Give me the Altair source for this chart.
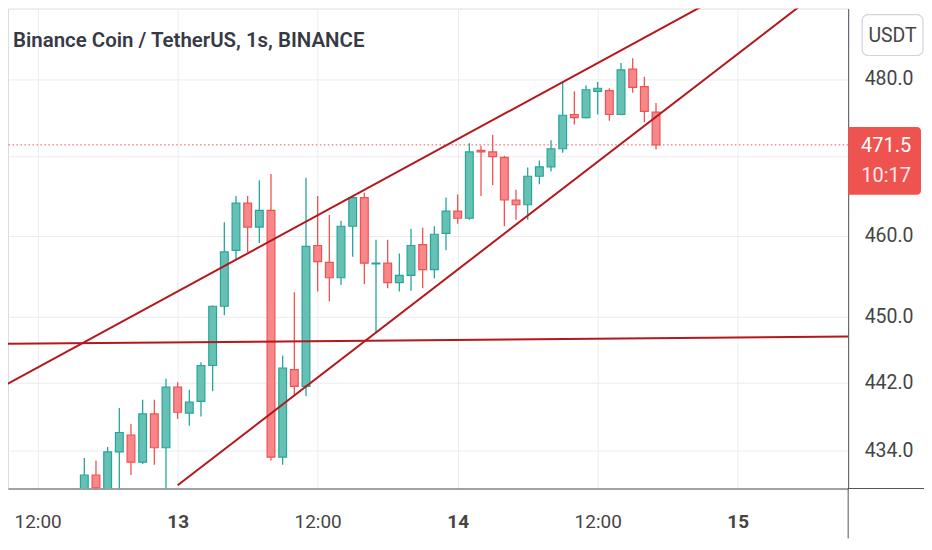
import altair as alt
import pandas as pd

TITLE = "Binance Coin / TetherUS, 1s, BINANCE"
CURRENCY = "USDT"
COUNTDOWN = "10:17"

# hours relative to day 13, 00:00
hours = list(range(-8, 42))
opens = [429.0, 431.1, 429.3, 433.8, 435.8, 432.6, 438.3, 434.3, 441.5, 438.4,
         439.8, 444.1, 451.3, 458.2, 464.1, 461.1, 463.2, 433.2, 443.6, 441.6,
         458.8, 456.7, 454.8, 461.2, 464.8, 456.5, 456.6, 454.2, 455.1, 458.9,
         455.8, 460.3, 463.1, 462.2, 470.8, 470.6, 469.9, 464.5, 463.9, 467.5,
         468.7, 471.0, 475.4, 475.0, 478.4, 478.5, 475.4, 481.3, 479.0, 475.7]
highs = [433.1, 432.8, 434.4, 439.0, 437.1, 440.0, 440.0, 442.5, 442.1, 441.2,
         444.5, 451.4, 461.7, 465.0, 465.0, 467.0, 467.8, 445.3, 453.0, 467.3,
         465.0, 462.6, 461.9, 465.0, 465.4, 459.5, 459.5, 457.8, 460.9, 461.0,
         461.2, 464.8, 465.2, 471.7, 471.4, 472.8, 470.1, 465.8, 468.6, 469.5,
         472.1, 479.6, 478.4, 479.2, 479.6, 478.8, 482.1, 482.7, 480.3, 476.9]
lows = [428.5, 428.8, 428.9, 429.5, 431.1, 432.4, 432.3, 429.5, 437.7, 436.9,
        438.0, 441.0, 450.2, 457.0, 458.0, 459.1, 432.8, 432.3, 440.6, 440.4,
        453.1, 451.9, 453.9, 457.4, 454.0, 448.0, 453.5, 453.1, 453.2, 453.5,
        454.7, 458.2, 461.5, 462.0, 465.0, 466.4, 461.2, 462.0, 462.0, 466.5,
        468.1, 470.5, 474.1, 474.9, 475.4, 474.6, 475.3, 478.2, 474.4, 470.9]
closes = [431.1, 429.6, 433.8, 436.1, 432.6, 438.3, 434.3, 441.5, 438.5, 439.7,
          444.1, 451.3, 458.0, 464.1, 461.1, 463.2, 433.2, 443.8, 441.6, 458.7,
          456.8, 454.8, 461.2, 464.8, 456.6, 456.6, 454.2, 455.1, 458.8, 455.8,
          460.2, 463.1, 462.2, 470.6, 470.6, 470.0, 464.5, 463.9, 467.5, 468.7,
          471.0, 475.3, 475.0, 478.6, 478.8, 475.4, 481.2, 478.9, 475.8, 471.5]

# trend line drawings: anchor points (hour, price)
line_ids = ["upper", "upper", "lower", "lower", "flat", "flat"]
line_hours = [-16, 58, 0, 58, -16, 58]
line_prices = [440.8, 500.7, 429.9, 495.2, 446.7, 447.6]

y_ticks = [434, 442, 450, 460, 470, 480]
hidden_tick = 470
x_ticks = [-12, 0, 12, 24, 36, 48]
x_tick_labels = ["12:00", "13", "12:00", "14", "12:00", "15"]

X_DOMAIN = [-14.113, 57.04]
Y_DOMAIN = [430.1, 488.6]

W, H = 842, 481
PAD_R, PAD_B = 76, 50

GREEN, GREEN_FILL = "#26a69a", "#66c0b3"
RED, RED_FILL = "#ef5350", "#f7878a"
TREND = "#b3181c"
GRID = "#e9ecf1"
AXIS = "#50535e"
TXT = "#454545"
FONT = "Roboto, sans-serif"

candles = pd.DataFrame({"h": hours, "o": opens, "hi": highs, "lo": lows, "c": closes})
candles["dir"] = ["up" if c >= o else "down" for o, c in zip(opens, closes)]
lines = pd.DataFrame({"id": line_ids, "h": line_hours, "p": line_prices})
last = pd.DataFrame({"price": [closes[-1]], "lbl": [f"{closes[-1]:.1f}"], "cd": [COUNTDOWN]})

label_expr = " : ".join(f"datum.value == {v} ? '{t}'" for v, t in zip(x_ticks, x_tick_labels)) + " : ''"

xaxis = alt.Axis(values=x_ticks, labelExpr=label_expr, title=None, grid=True, gridColor=GRID,
                 gridWidth=1, ticks=False, tickSize=0, domain=True, domainColor=AXIS, domainWidth=1,
                 labelFont=FONT, labelFontSize=19, labelColor=TXT, labelPadding=39,
                 labelBaseline="alphabetic", labelFlush=False, labelOverlap=False,
                 labelFontWeight={"condition": {"test": "datum.value % 24 === 0", "value": "bold"},
                                  "value": "normal"})
yaxis = alt.Axis(orient="right", values=y_ticks,
                 labelExpr=f"datum.value == {hidden_tick} ? '' : format(datum.value, '.1f')",
                 title=None, grid=True, gridColor=GRID, gridWidth=1, ticks=False, tickSize=0,
                 domain=True, domainColor=AXIS, domainWidth=1, labelFont=FONT, labelFontSize=19.5,
                 labelColor=TXT, labelPadding=16, labelAlign="left", labelBaseline="middle",
                 labelOverlap=False, labelFlush=False)

xs = alt.Scale(domain=X_DOMAIN, nice=False, zero=False)
ys = alt.Scale(type="log", domain=Y_DOMAIN, nice=False, zero=False)
dir_stroke = alt.Scale(domain=["up", "down"], range=[GREEN, RED])
dir_fill = alt.Scale(domain=["up", "down"], range=[GREEN_FILL, RED_FILL])

base = alt.Chart(candles)
wicks = base.mark_rule(strokeWidth=1.3, clip=True).encode(
    x=alt.X("h:Q", scale=xs, axis=xaxis),
    y=alt.Y("lo:Q", scale=ys, axis=yaxis),
    y2="hi:Q",
    stroke=alt.Stroke("dir:N", scale=dir_stroke, legend=None),
)
bodies = base.mark_bar(size=7.8, strokeWidth=1.2, clip=True, orient="vertical").encode(
    x=alt.X("h:Q", scale=xs, axis=xaxis),
    y=alt.Y("o:Q", scale=ys, axis=yaxis),
    y2="c:Q",
    stroke=alt.Stroke("dir:N", scale=dir_stroke, legend=None),
    fill=alt.Fill("dir:N", scale=dir_fill, legend=None),
)
trend = alt.Chart(lines).mark_line(strokeWidth=2, clip=True, color=TREND).encode(
    x=alt.X("h:Q", scale=xs, axis=xaxis),
    y=alt.Y("p:Q", scale=ys, axis=yaxis),
    detail="id:N",
)
price_line = alt.Chart(last).mark_rule(color=RED, strokeWidth=1, strokeDash=[1.5, 2.5]).encode(
    y=alt.Y("price:Q", scale=ys, axis=yaxis),
)
price_box = alt.Chart(last).mark_bar(color=RED, orient="horizontal", size=68, yOffset=16,
                                     cornerRadiusTopRight=4, cornerRadiusBottomRight=4).encode(
    x=alt.value(W), x2=alt.value(W + 73),
    y=alt.Y("price:Q", scale=ys, axis=yaxis),
)
price_txt = alt.Chart(last).mark_text(color="white", font=FONT, fontSize=20, baseline="middle",
                                      align="center", dy=1).encode(
    x=alt.value(W + 38), y=alt.Y("price:Q", scale=ys, axis=yaxis), text="lbl:N")
cd_txt = alt.Chart(last).mark_text(color="#fde9e9", font=FONT, fontSize=20, baseline="middle",
                                   align="center", dy=31.5).encode(
    x=alt.value(W + 38), y=alt.Y("price:Q", scale=ys, axis=yaxis), text="cd:N")

# frame extensions and decorations
frame = pd.DataFrame({"k": [0]})
hline_ext = alt.Chart(frame).mark_rule(color=AXIS, strokeWidth=1).encode(
    x=alt.value(W), x2=alt.value(W + PAD_R), y=alt.value(H))
vline_ext = alt.Chart(frame).mark_rule(color=AXIS, strokeWidth=1).encode(
    x=alt.value(W), y=alt.value(H), y2=alt.value(H + PAD_B))
cur_box = alt.Chart(frame).mark_rect(fill="white", stroke="#d1d4dc", strokeWidth=1.2,
                                     cornerRadius=6).encode(
    x=alt.value(W + 14), x2=alt.value(W + 75), y=alt.value(6), y2=alt.value(47))
cur_txt = alt.Chart(frame).mark_text(text=CURRENCY, font=FONT, fontSize=19.5, color=TXT,
                                     baseline="middle", align="center").encode(
    x=alt.value(W + 44.5), y=alt.value(27))
title_txt = alt.Chart(frame).mark_text(text=TITLE, font=FONT, fontSize=20.5, fontWeight=600,
                                       color="#363a45", align="left", baseline="alphabetic").encode(
    x=alt.value(5), y=alt.value(38.7))

chart = alt.layer(
    price_line, wicks, bodies, trend, hline_ext, vline_ext, price_box, price_txt, cd_txt,
    cur_box, cur_txt, title_txt,
).properties(
    width=W, height=H,
    autosize=alt.AutoSizeParams(type="none"),
    padding={"left": 0, "top": 0, "right": PAD_R, "bottom": PAD_B},
).configure_view(stroke=None).configure(background="white")

chart.save("out.html", embed_options={"renderer": "svg", "actions": False})
